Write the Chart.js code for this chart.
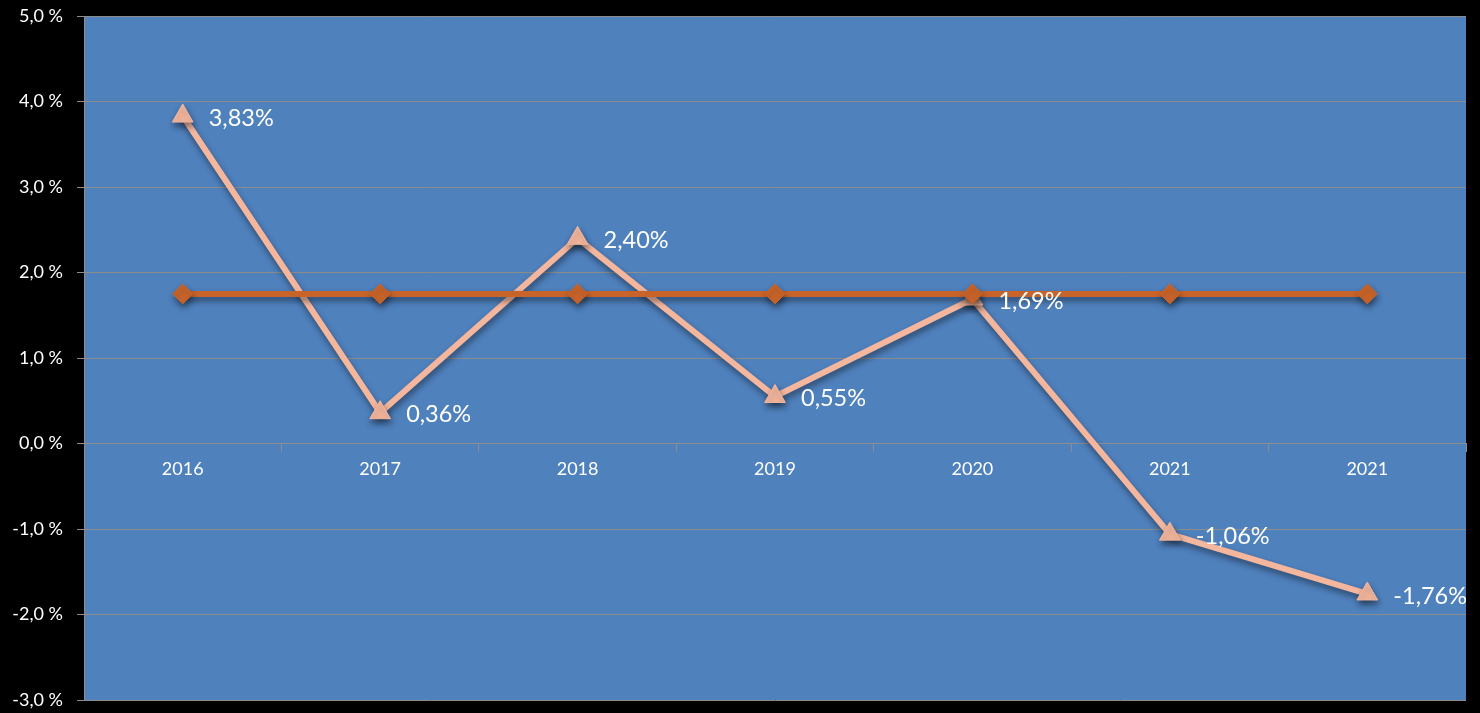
<!DOCTYPE html>
<html>
<head>
<meta charset="utf-8">
<script src="https://cdn.jsdelivr.net/npm/chart.js@4"></script>
<style>
  html, body { margin: 0; padding: 0; background: #000; }
  #wrap { width: 1480px; height: 713px; }
</style>
</head>
<body>
<div id="wrap"><canvas id="c" width="1480" height="713"></canvas></div>
<script>
const categories = ['2016', '2017', '2018', '2019', '2020', '2021', '2021'];
const rateValues = [3.83, 0.36, 2.40, 0.55, 1.69, -1.06, -1.76];
const targetValues = [1.75, 1.75, 1.75, 1.75, 1.75, 1.75, 1.75];
const yMin = -3;
const yMax = 5;
const yStep = 1;

const FONT = 'Lato, "Open Sans", "Liberation Sans", sans-serif';

const plotBg = {
  id: 'plotBg',
  beforeDraw(chart) {
    const { ctx, chartArea: a } = chart;
    ctx.save();
    ctx.fillStyle = '#4F81BD';
    ctx.fillRect(a.left, a.top, a.right - a.left, a.bottom - a.top);
    ctx.restore();
  }
};

const shadow = {
  id: 'shadow',
  beforeDatasetDraw(chart, args) {
    const ctx = chart.ctx;
    ctx.save();
    ctx.shadowColor = 'rgba(0,0,0,0.45)';
    ctx.shadowBlur = 6;
    ctx.shadowOffsetX = 1;
    ctx.shadowOffsetY = 4;
  },
  afterDatasetDraw(chart) {
    chart.ctx.restore();
  }
};

const valueLabels = {
  id: 'valueLabels',
  afterDatasetsDraw(chart) {
    const ctx = chart.ctx;
    const meta = chart.getDatasetMeta(1);
    ctx.save();
    ctx.fillStyle = '#ffffff';
    ctx.font = '23.5px ' + FONT;
    ctx.textAlign = 'left';
    ctx.textBaseline = 'middle';
    meta.data.forEach((pt, i) => {
      const v = rateValues[i];
      const txt = v.toFixed(2).replace('.', ',') + '%';
      ctx.fillText(txt, pt.x + 26, pt.y + 2);
    });
    ctx.restore();
  }
};

new Chart(document.getElementById('c'), {
  type: 'line',
  data: {
    labels: categories,
    datasets: [
      {
        label: 'Target',
        data: targetValues,
        borderColor: '#C8642A',
        backgroundColor: '#C8642A',
        borderWidth: 6,
        pointStyle: 'rectRot',
        pointRadius: 10,
        pointHoverRadius: 10,
        pointBackgroundColor: '#C8642A',
        pointBorderColor: '#C8642A',
        pointBorderWidth: 1,
        tension: 0,
        order: 0
      },
      {
        label: 'Rate',
        data: rateValues,
        borderColor: '#F4B69D',
        backgroundColor: '#F4B69D',
        borderWidth: 6,
        pointStyle: 'triangle',
        pointRadius: 12,
        pointHoverRadius: 12,
        pointBackgroundColor: '#F4B69D',
        pointBorderColor: '#F4B69D',
        pointBorderWidth: 1,
        tension: 0,
        order: 1
      }
    ]
  },
  options: {
    responsive: false,
    animation: false,
    devicePixelRatio: 1,
    layout: { padding: { top: 16, right: 14, bottom: 13, left: 0 } },
    plugins: {
      legend: { display: false },
      tooltip: { enabled: false }
    },
    scales: {
      x: {
        type: 'category',
        position: { y: 0 },
        offset: true,
        grid: {
          offset: true,
          drawOnChartArea: false,
          drawTicks: true,
          tickLength: 8,
          color: '#8c8c8c',
          lineWidth: 1
        },
        border: { display: true, color: '#8c8c8c', width: 1 },
        ticks: {
          color: '#ffffff',
          font: { family: FONT, size: 18 },
          padding: 7,
          maxRotation: 0,
          autoSkip: false
        },
        afterFit(scale) { scale.height = 0; scale.paddingLeft = 0; scale.paddingRight = 0; }
      },
      y: {
        min: yMin,
        max: yMax,
        grid: {
          color: '#8c8c8c',
          lineWidth: 1,
          drawTicks: true,
          tickLength: 7
        },
        border: { display: true, color: '#8c8c8c', width: 1 },
        ticks: {
          stepSize: yStep,
          color: '#ffffff',
          font: { family: FONT, size: 18 },
          padding: 14,
          callback: (v) => Number(v).toFixed(1).replace('.', ',') + ' %'
        },
        afterFit(scale) { scale.width = 84; scale.paddingTop = 0; scale.paddingBottom = 0; }
      }
    }
  },
  plugins: [plotBg, shadow, valueLabels]
});
</script>
</body>
</html>
